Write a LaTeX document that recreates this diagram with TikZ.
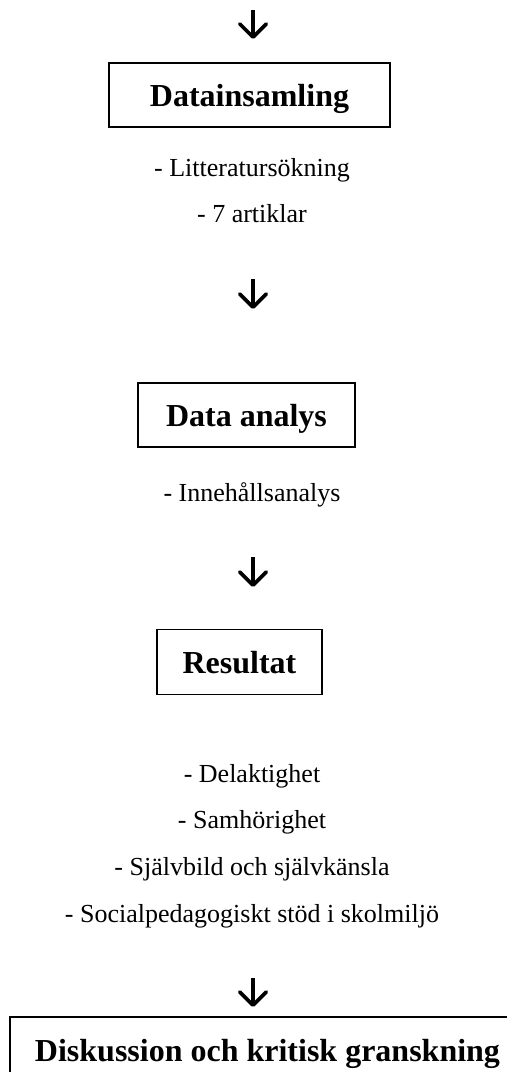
\documentclass[tikz,border=0pt]{standalone}
\usepackage{fontspec}
\setmainfont{Liberation Serif}
\usetikzlibrary{arrows.meta}

\begin{document}
\begin{tikzpicture}[x=0.75pt,y=-0.75pt]

 \tikzset{
    stage/.style={draw, line width=1.4pt, font=\fontsize{24}{28}\selectfont\bfseries,
      text height=17pt, text depth=0pt, inner sep=0pt},
    item/.style={anchor=base, font=\fontsize{19.5}{23}\selectfont, inner sep=0pt},
    arr/.style={line width=2.7pt, -{Straight Barb[length=10pt,width=20pt,round]}},
  }

  \useasboundingbox (0,0) rectangle (507,1072);
  \clip (0,0) rectangle (507,1072);

  % boxes
  \node[stage, minimum width=210.75pt, minimum height=48pt] (insamling) at (249.5,95) {Datainsamling};
  \node[stage, minimum width=162.75pt, minimum height=48pt] (analys) at (246.5,415) {Data analys};
  \node[stage, minimum width=123.75pt, minimum height=48.75pt] (resultat) at (239.5,662) {Resultat};
  \node[stage, minimum width=386pt, minimum height=49.5pt] (diskussion) at (267.5,1050) {Diskussion och kritisk granskning};

  % texts
  \node[item] (sokning) at (252,176) {- Litteratursökning};
  \node[item] (artiklar) at (252,222) {- 7 artiklar};
  \node[item] (innehall) at (252,501) {- Innehållsanalys};
  \node[item] (delaktighet) at (252,782) {- Delaktighet};
  \node[item] (samhorighet) at (252,828) {- Samhörighet};
  \node[item] (sjalvbild) at (252,875) {- Självbild och självkänsla};
  \node[item] (stod) at (252,922) {- Socialpedagogiskt stöd i skolmiljö};

  % arrows
  \coordinate (a1) at (253,10);  \coordinate (b1) at (253,39);
  \coordinate (a2) at (253,279); \coordinate (b2) at (253,309);
  \coordinate (a3) at (253,557); \coordinate (b3) at (253,587);
  \coordinate (a4) at (253,978); \coordinate (b4) at (253,1007);
  \draw[arr] (a1) -- (b1);
  \draw[arr] (a2) -- (b2);
  \draw[arr] (a3) -- (b3);
  \draw[arr] (a4) -- (b4);

\end{tikzpicture}
\end{document}
